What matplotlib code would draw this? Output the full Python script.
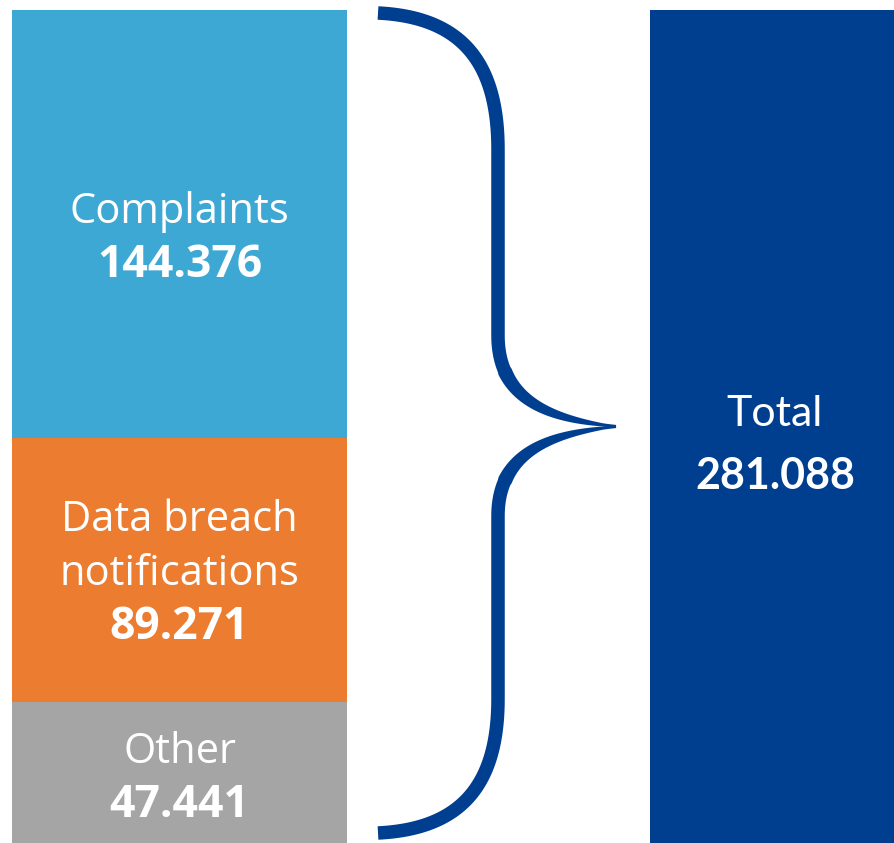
import numpy as np
import matplotlib.pyplot as plt
from matplotlib.patches import Polygon

# data
labels = ['Complaints', 'Data breach\nnotifications', 'Other']
values = [144376, 89271, 47441]
colors = ['#3ea8d5', '#eb7c30', '#a5a5a5']
total_label = 'Total'
total_value = 281088
total_color = '#003f8f'

def fmt(v):
    # thousands separator is a dot
    return f'{v:,}'.replace(',', '.')

W, H = 895, 843
fig = plt.figure(figsize=(W / 100, H / 100), dpi=100)
ax = fig.add_axes([0, 0, 1, 1])
ax.set_xlim(0, W)
ax.set_ylim(0, total_value * H / 833)
ax.axis('off')

plt.rcParams['font.family'] = ['Open Sans', 'DejaVu Sans']

# stacked bar, top segment first
tops = total_value - np.cumsum([0] + values[:-1])
bottoms = tops - np.array(values)
ax.bar(179.5, values, bottom=bottoms, width=335, color=colors, linewidth=0)
ax.bar(775, total_value, width=250, color=total_color, linewidth=0)

# text in segments (offsets in pixels, baseline aligned)
shift = [-11, 0, -2]
step = 54
for lab, v, b, t, s in zip(labels, values, bottoms, tops, shift):
    yc = (b + t) / 2
    lines = lab.split('\n') + [fmt(v)]
    n = len(lines)
    for i, txt in enumerate(lines):
        dy = s - (i - (n - 1) / 2) * step - 15
        last = i == n - 1
        ax.annotate(txt, (179.5, yc), xytext=(0, dy), textcoords='offset pixels',
                    ha='center', va='baseline', color='white',
                    fontsize=32 if last else 30,
                    fontweight='bold' if last else 'normal')

ax.annotate(total_label, (775, total_value / 2), xytext=(0, 0), textcoords='offset pixels',
            ha='center', va='baseline', color='white', fontsize=31, family=['Lato'])
ax.annotate(fmt(total_value), (775, total_value / 2), xytext=(0, -63), textcoords='offset pixels',
            ha='center', va='baseline', color='white', fontsize=31, fontweight='bold', family=['Lato'])

# curly brace, display pixels
fig.canvas.draw()
y_top = ax.transData.transform((0, total_value))[1] - 3
y_bot = ax.transData.transform((0, 0))[1] + 10
y_mid = ax.transData.transform((0, total_value / 2))[1]

def bez(p0, p1, p2, p3, n=60):
    t = np.linspace(0, 1, n)[:, None]
    return ((1 - t) ** 3 * p0 + 3 * (1 - t) ** 2 * t * p1
            + 3 * (1 - t) * t ** 2 * p2 + t ** 3 * p3)

def half(y0, ym):
    d = ym - y0
    a = np.array
    s1 = bez(a([378, y0]), a([462, y0 + 0.01 * d]), a([498, y0 + 0.12 * d]), a([498, y0 + 0.33 * d]))
    s2 = np.column_stack([np.full(40, 498.0), np.linspace(y0 + 0.33 * d, y0 + 0.78 * d, 40)])
    s3 = bez(a([498, y0 + 0.78 * d]), a([498, y0 + 0.95 * d]), a([560, y0 + 0.985 * d]), a([616, ym]))
    c = np.vstack([s1, s2[1:], s3[1:]])
    # width tapers near the tip
    L = np.r_[0, np.cumsum(np.hypot(*np.diff(c, axis=0).T))]
    w = np.full(len(c), 13.5)
    tail = L > L[-1] - 130
    w[tail] = 13.5 * np.clip((L[-1] - L[tail]) / 130, 0.1, 1) ** 0.8 + 1
    tg = np.gradient(c, axis=0)
    tg /= np.hypot(tg[:, 0], tg[:, 1])[:, None]
    nrm = np.column_stack([-tg[:, 1], tg[:, 0]])
    return np.vstack([c + nrm * w[:, None] / 2, (c - nrm * w[:, None] / 2)[::-1]])

for y0 in (y_top, y_bot):
    ax.add_patch(Polygon(half(y0, y_mid), closed=True, transform=None,
                         facecolor=total_color, edgecolor='none'))

fig.savefig('out.png', dpi=100)
